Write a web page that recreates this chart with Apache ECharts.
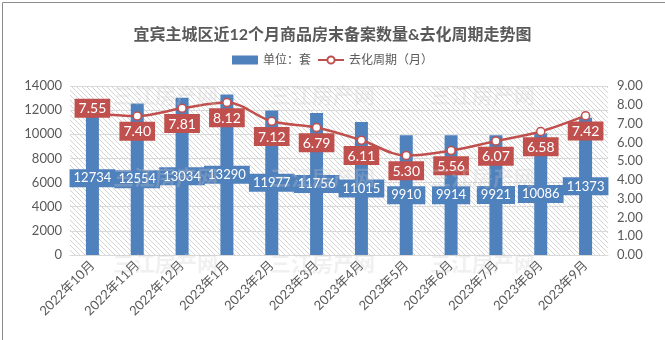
<!DOCTYPE html>
<html>
<head>
<meta charset="utf-8">
<script src="https://cdn.jsdelivr.net/npm/echarts@6/dist/echarts.min.js"></script>
<style>
html,body{margin:0;padding:0;background:#fff;}
#c{width:665px;height:340px;}
</style>
</head>
<body>
<div id="c"></div>
<script>
const titleText = '宜宾主城区近12个月商品房末备案数量&去化周期走势图';
const categories = ['2022年10月','2022年11月','2022年12月','2023年1月','2023年2月','2023年3月','2023年4月','2023年5月','2023年6月','2023年7月','2023年8月','2023年9月'];
const unsoldUnits = [12734,12554,13034,13290,11977,11756,11015,9910,9914,9921,10086,11373];
const cycleMonths = [7.55,7.40,7.81,8.12,7.12,6.79,6.11,5.30,5.56,6.07,6.58,7.42];
const seriesNames = ['单位：套','去化周期（月）'];
const watermark = '三江房产网';

const FONT = "Lato, 'Noto Sans CJK SC', sans-serif";
const GRAY = '#595959';
const BLUE = '#4f81bd';
const RED = '#c0504d';

// hatch pattern
const pc = document.createElement('canvas');
pc.width = 5; pc.height = 5;
const px = pc.getContext('2d');
px.fillStyle = '#ffffff'; px.fillRect(0,0,5,5);
px.strokeStyle = '#d4d4d4'; px.lineWidth = 1;
px.beginPath();
px.moveTo(-1,-1); px.lineTo(6,6);
px.moveTo(-1,4); px.lineTo(1,6);
px.moveTo(4,-1); px.lineTo(6,1);
px.stroke();

const wmPos = [[163,97],[320,97],[480,97],[163,179],[320,179],[480,179],[163,265],[320,265],[480,265]];
const graphics = wmPos.map(p => ({
  type:'text', left:p[0]-50, top:p[1]-12, z:100, silent:true,
  style:{text:watermark, fontSize:21, fontWeight:'bold', fontFamily:"'Noto Sans CJK SC', sans-serif", fill:'rgba(200,200,200,0.28)'}
}));
graphics.push({type:'rect', left:0, top:0, z:100, silent:true,
  shape:{x:0.5,y:0.5,width:664,height:339}, style:{fill:'none', stroke:'#8c8c8c', lineWidth:1}});

const lineData = cycleMonths.map((v,i) => i === 0
  ? {value:v, label:{position:'inside', offset:[0,-5]}}
  : v);

const chart = echarts.init(document.getElementById('c'));
chart.setOption({
  animation:false,
  backgroundColor:'#fff',
  title:{text:titleText, left:'center', top:22,
    textStyle:{fontSize:16, fontWeight:'bold', color:GRAY, fontFamily:FONT}},
  legend:{top:49, left:'center', itemGap:6, itemWidth:26, itemHeight:9,
    textStyle:{fontSize:12, color:GRAY, fontFamily:FONT},
    data:[{name:seriesNames[0], icon:'rect'}, {name:seriesNames[1]}]},
  grid:{left:70, right:57, top:86, bottom:85, show:true, borderWidth:0,
    backgroundColor:{image:pc, repeat:'repeat'}},
  graphic:graphics,
  xAxis:{type:'category', data:categories,
    axisLine:{lineStyle:{color:'#d9d9d9'}}, axisTick:{show:false},
    axisLabel:{rotate:45, fontSize:13, color:GRAY, fontFamily:FONT, margin:8, interval:0}},
  yAxis:[
    {type:'value', min:0, max:14000, interval:2000,
      axisLine:{show:false}, axisTick:{show:false},
      splitLine:{lineStyle:{color:'#d9d9d9'}},
      axisLabel:{fontSize:13, color:GRAY, fontFamily:FONT, margin:8, formatter:v=>String(v)}},
    {type:'value', min:0, max:9, interval:1,
      axisLine:{show:false}, axisTick:{show:false}, splitLine:{show:false},
      axisLabel:{fontSize:13, color:GRAY, fontFamily:FONT, margin:9, formatter:v=>v.toFixed(2)}}
  ],
  series:[
    {name:seriesNames[0], type:'bar', data:unsoldUnits, barWidth:13,
      itemStyle:{color:BLUE},
      label:{show:true, position:'inside', color:'#fff', fontSize:13, fontFamily:FONT,
        backgroundColor:BLUE, padding:[3,4,2,4]}},
    {name:seriesNames[1], type:'line', yAxisIndex:1, data:lineData, smooth:0.35,
      symbol:'circle', symbolSize:8, showAllSymbol:true,
      lineStyle:{color:RED, width:2.5},
      itemStyle:{color:'#fff', borderColor:RED, borderWidth:1.5},
      z:5,
      label:{show:true, position:'bottom', distance:1, color:'#fff', fontSize:14, fontFamily:FONT,
        backgroundColor:RED, padding:[3,4,2,4], formatter:p=>Number(p.value).toFixed(2)}}
  ]
});
</script>
</body>
</html>
